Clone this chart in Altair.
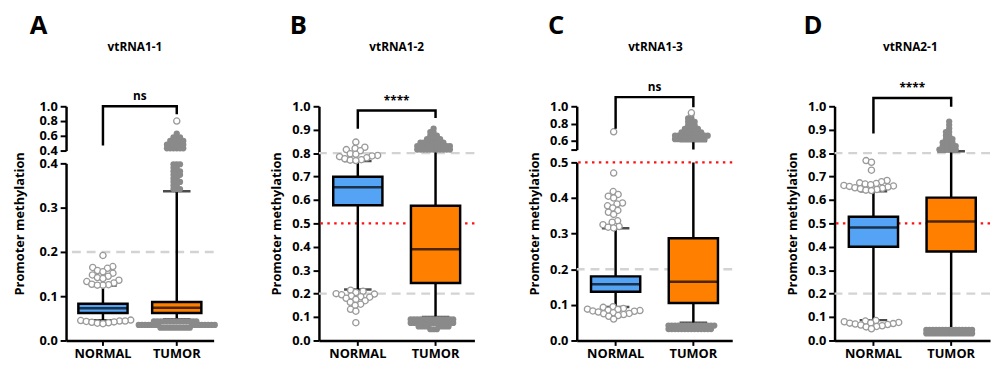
import math
import altair as alt
import pandas as pd

# ---------------- data ----------------
GROUPS = ["NORMAL", "TUMOR"]
LETTERS = ["A", "B", "C", "D"]
GENES = ["vtRNA1-1", "vtRNA1-2", "vtRNA1-3", "vtRNA2-1"]
SIGNIF = ["ns", "****", "ns", "****"]

# box statistics, one value per group (NORMAL, TUMOR)
A_LO = [0.046, 0.048]
A_Q1 = [0.062, 0.062]
A_MED = [0.073, 0.074]
A_Q3 = [0.083, 0.087]
A_HI = [0.124, 0.337]

B_LO = [0.218, 0.100]
B_Q1 = [0.577, 0.245]
B_MED = [0.654, 0.390]
B_Q3 = [0.699, 0.575]
B_HI = [0.766, 0.810]

C_LO = [0.094, 0.050]
C_Q1 = [0.137, 0.105]
C_MED = [0.158, 0.165]
C_Q3 = [0.180, 0.287]
C_HI = [0.315, 0.600]

D_LO = [0.087, 0.050]
D_Q1 = [0.400, 0.380]
D_MED = [0.482, 0.508]
D_Q3 = [0.528, 0.610]
D_HI = [0.637, 0.808]

# NORMAL outliers (individual samples)
A_NORMAL_OUT = [0.192, 0.167, 0.165, 0.163, 0.158, 0.155, 0.152, 0.148, 0.145, 0.142,
                0.140, 0.136, 0.133, 0.130, 0.127, 0.126, 0.125, 0.125,
                0.046, 0.045, 0.044, 0.043, 0.042, 0.041, 0.040, 0.039, 0.038, 0.044]
B_NORMAL_OUT = [0.847, 0.825, 0.820, 0.815, 0.810, 0.797, 0.795, 0.790, 0.788, 0.785,
                0.780, 0.776, 0.772, 0.770, 0.768,
                0.215, 0.210, 0.205, 0.200, 0.198, 0.195, 0.190, 0.187, 0.185, 0.180,
                0.175, 0.170, 0.163, 0.155, 0.150, 0.133, 0.125, 0.076]
C_NORMAL_OUT = [0.705, 0.470, 0.418, 0.410, 0.405, 0.400, 0.386, 0.383, 0.378, 0.372,
                0.365, 0.360, 0.354, 0.336, 0.332, 0.325, 0.320, 0.318, 0.316,
                0.095, 0.093, 0.090, 0.088, 0.087, 0.085, 0.084, 0.083, 0.082, 0.080,
                0.078, 0.076, 0.075, 0.073, 0.070, 0.068, 0.060]
D_NORMAL_OUT = [0.768, 0.761, 0.727, 0.683, 0.678, 0.673, 0.670, 0.668, 0.665, 0.662,
                0.660, 0.658, 0.655, 0.652, 0.650, 0.648, 0.645, 0.642, 0.640,
                0.085, 0.083, 0.080, 0.077, 0.075, 0.074, 0.072, 0.070,
                0.068, 0.066, 0.063, 0.060, 0.058, 0.050]

# TUMOR outliers: dense clouds as (level, number of samples) and isolated samples
A_TUMOR_LEVELS = [0.029, 0.035, 0.043, 0.342, 0.350, 0.358, 0.366, 0.374, 0.382, 0.390,
                  0.398, 0.43, 0.48, 0.53, 0.58, 0.63]
A_TUMOR_COUNTS = [10, 15, 14, 3, 2, 3, 2, 3, 3, 2, 3, 6, 6, 5, 3, 1]
A_TUMOR_SINGLE = [0.80]
B_TUMOR_LEVELS = [0.048, 0.060, 0.075, 0.090, 0.815, 0.830, 0.845, 0.860, 0.875, 0.890, 0.905]
B_TUMOR_COUNTS = [3, 8, 14, 14, 11, 11, 8, 5, 3, 2, 1]
B_TUMOR_SINGLE = []
C_TUMOR_LEVELS = [0.032, 0.042, 0.62, 0.66, 0.70, 0.74, 0.78, 0.82, 0.86, 0.90]
C_TUMOR_COUNTS = [14, 15, 10, 11, 7, 5, 3, 3, 2, 1]
C_TUMOR_SINGLE = [0.925]
D_TUMOR_LEVELS = [0.030, 0.045, 0.815, 0.830, 0.845, 0.860, 0.875, 0.890, 0.905, 0.920, 0.935]
D_TUMOR_COUNTS = [15, 15, 6, 5, 4, 3, 2, 2, 1, 1, 1]
D_TUMOR_SINGLE = []

# significance brackets (y of bar, y of NORMAL leg end, y of TUMOR leg end)
BRACKET_TOP = [1.0, 0.982, 1.106, 1.035]
BRACKET_LEG_NORMAL = [0.467, 0.904, 0.74, 0.884]
BRACKET_LEG_TUMOR = [0.893, 0.95, 0.99, 0.998]

GRAY_LINES = [[0.2], [0.2, 0.8], [0.2], [0.2, 0.8]]
RED_LINES = [[], [0.5], [0.5], [0.5]]

AXIS_BREAK = [0.4, None, 0.5, None]
TOP_TICKS = [[0.4, 0.6, 0.8, 1.0], None, [0.5, 0.6, 0.8, 1.0], None]
TOP_HIDDEN = [[], None, [0.5], None]
BOTTOM_TICKS = [[0.0, 0.1, 0.2, 0.3, 0.4], [0.0, 0.1, 0.2, 0.3, 0.4, 0.5, 0.6, 0.7, 0.8, 0.9, 1.0],
                [0.0, 0.1, 0.2, 0.3, 0.4, 0.5], [0.0, 0.1, 0.2, 0.3, 0.4, 0.5, 0.6, 0.7, 0.8, 0.9, 1.0]]

LO = [A_LO, B_LO, C_LO, D_LO]
Q1 = [A_Q1, B_Q1, C_Q1, D_Q1]
MED = [A_MED, B_MED, C_MED, D_MED]
Q3 = [A_Q3, B_Q3, C_Q3, D_Q3]
HI = [A_HI, B_HI, C_HI, D_HI]
NORMAL_OUT = [A_NORMAL_OUT, B_NORMAL_OUT, C_NORMAL_OUT, D_NORMAL_OUT]
TUMOR_LEVELS = [A_TUMOR_LEVELS, B_TUMOR_LEVELS, C_TUMOR_LEVELS, D_TUMOR_LEVELS]
TUMOR_COUNTS = [A_TUMOR_COUNTS, B_TUMOR_COUNTS, C_TUMOR_COUNTS, D_TUMOR_COUNTS]
TUMOR_SINGLE = [A_TUMOR_SINGLE, B_TUMOR_SINGLE, C_TUMOR_SINGLE, D_TUMOR_SINGLE]

# ---------------- style ----------------
FONT = "Open Sans"
BLUE = "#55a3f5"
ORANGE = "#ff8000"
DOT_GRAY = "#8a8a8a"
RING_GRAY = "#9a9a9a"
DASH_GRAY = "#d3d3d3"
RED = "#ff1010"
PANEL_W = [150, 158, 158, 158]
TOTAL_H = 238
TOP_H = [45, None, 44, None]
GAP = 13
TITLE_PAD = [13, 8, 8, 8]
LETTER_X = [-28, -21, -21, -22]
GENE_X = [70, 79, 80, 77]
LETTER_Y = -81
GENE_Y = -60
BOX_W = 50
CAP_W = 28
LW = 2.5
H_SPACING = 53


def swarm(values, d0, ppu, dist):
    """Deterministic beeswarm: horizontal pixel offsets that keep markers apart."""
    pts = [(v - d0) * ppu for v in values]
    order = sorted(range(len(pts)), key=lambda k: pts[k])
    placed = []
    offs = [0.0] * len(pts)
    for k in order:
        y = pts[k]
        near = [(px, py) for (px, py) in placed if abs(py - y) < dist]
        cands = [0.0]
        for px, py in near:
            dx = math.sqrt(max(dist * dist - (py - y) ** 2, 0.0))
            cands += [px + dx, px - dx]
        cands.sort(key=lambda c: (round(abs(c), 6), c))
        for c in cands:
            if all((c - px) ** 2 + (y - py) ** 2 >= dist * dist - 1e-6 for px, py in near):
                offs[k] = c
                placed.append((c, y))
                break
    return offs


def y_axis(ticks, hidden, title_pad, title_y=None):
    expr = "format(datum.value, '.1f')"
    if hidden:
        cond = " || ".join("abs(datum.value - %s) < 1e-9" % h for h in hidden)
        expr = "(%s) ? '' : %s" % (cond, expr)
    kw = dict(values=ticks, labelExpr=expr, labelFont=FONT, labelFontSize=13,
              labelFontWeight="bold", labelColor="black", labelPadding=3,
              labelOverlap=False, tickColor="black", tickWidth=2, tickSize=6,
              domainColor="black", domainWidth=LW, grid=False, titleFont=FONT,
              titleFontSize=13, titleFontWeight="bold", titleColor="black",
              titlePadding=title_pad)
    if title_y is not None:
        kw["titleY"] = title_y
    return alt.Axis(**kw)


X_AXIS = alt.Axis(labelFont=FONT, labelFontSize=13, labelFontWeight="bold",
                  labelColor="black", labelAngle=0, labelPadding=2, tickColor="black",
                  tickWidth=2, tickSize=5, domainColor="black", domainWidth=LW, grid=False)


def segment(i, d0, d1, height, ticks, hidden, part, title_y=None):
    W = PANEL_W[i]
    ppu = height / (d1 - d0)
    xscale = alt.Scale(domain=GROUPS, paddingInner=0, paddingOuter=0)
    yscale = alt.Scale(domain=[d0, d1], nice=False, zero=False)
    yax = y_axis(ticks, hidden, TITLE_PAD[i], title_y)
    ytitle = None if part == "top" else "Promoter methylation"
    xax = None if part == "top" else X_AXIS
    offscale = alt.Scale(domain=[-W / 4, W / 4], range=[0, W / 2])

    def X():
        return alt.X("group:N", scale=xscale, axis=xax, title=None)

    def Y(f):
        return alt.Y(f + ":Q", scale=yscale, axis=yax, title=ytitle)

    def in_line(v):
        return (d0 < v <= d1) if part == "top" else (d0 <= v <= d1)

    def in_pts(v):
        if part == "top":
            return v > d0
        if part == "bottom":
            return v <= d1
        return True

    layers = []
    grays = [v for v in GRAY_LINES[i] if in_line(v)]
    reds = [v for v in RED_LINES[i] if in_line(v)]
    if grays:
        layers.append(alt.Chart(pd.DataFrame({"y": grays})).mark_rule(
            color=DASH_GRAY, strokeWidth=LW, strokeDash=[9, 6]).encode(y=Y("y")))
    if reds:
        layers.append(alt.Chart(pd.DataFrame({"y": reds})).mark_rule(
            color=RED, strokeWidth=LW, strokeDash=[2.5, 4.5]).encode(y=Y("y")))

    stats = pd.DataFrame({"group": GROUPS, "lo": LO[i], "q1": Q1[i], "med": MED[i],
                          "q3": Q3[i], "hi": HI[i]})
    base = alt.Chart(stats)
    layers.append(base.mark_rule(color="black", strokeWidth=LW, clip=True).encode(
        x=X(), y=Y("q3"), y2="hi"))
    layers.append(base.mark_rule(color="black", strokeWidth=LW, clip=True).encode(
        x=X(), y=Y("lo"), y2="q1"))
    layers.append(base.mark_bar(size=BOX_W, stroke="black", strokeWidth=LW, clip=True).encode(
        x=X(), y=Y("q1"), y2="q3",
        fill=alt.Fill("group:N", scale=alt.Scale(domain=GROUPS, range=[BLUE, ORANGE]), legend=None)))
    layers.append(base.mark_tick(size=BOX_W, thickness=LW, color="black", clip=True).encode(
        x=X(), y=Y("med")))
    layers.append(base.mark_tick(size=CAP_W, thickness=LW, color="black", clip=True).encode(
        x=X(), y=Y("hi")))
    layers.append(base.mark_tick(size=CAP_W, thickness=LW, color="black", clip=True).encode(
        x=X(), y=Y("lo")))

    # dense tumour clouds
    fvals = []
    for lev, cnt in zip(TUMOR_LEVELS[i], TUMOR_COUNTS[i]):
        if in_pts(lev):
            fvals += [lev] * cnt
    if fvals:
        offs = swarm(fvals, d0, ppu, 3.5)
        fdf = pd.DataFrame({"group": "TUMOR", "value": fvals, "off": offs})
        layers.append(alt.Chart(fdf).mark_point(filled=True, size=40, color=DOT_GRAY,
                                                opacity=1).encode(
            x=X(), xOffset=alt.XOffset("off:Q", scale=offscale), y=Y("value")))

    # individual (hollow) samples
    hrows = []
    for g, vals in (("NORMAL", NORMAL_OUT[i]), ("TUMOR", TUMOR_SINGLE[i])):
        vv = [v for v in vals if in_pts(v)]
        if vv:
            for v, o in zip(vv, swarm(vv, d0, ppu, 6.0)):
                hrows.append({"group": g, "value": v, "off": o})
    if hrows:
        layers.append(alt.Chart(pd.DataFrame(hrows)).mark_point(
            filled=True, fill="white", stroke=RING_GRAY, strokeWidth=1.3, size=40,
            opacity=1).encode(
            x=X(), xOffset=alt.XOffset("off:Q", scale=offscale), y=Y("value")))

    if part != "bottom":
        bdf = pd.DataFrame({"group": ["NORMAL", "NORMAL", "TUMOR", "TUMOR"],
                            "y": [BRACKET_LEG_NORMAL[i], BRACKET_TOP[i], BRACKET_TOP[i],
                                  BRACKET_LEG_TUMOR[i]],
                            "order": [0, 1, 2, 3]})
        layers.append(alt.Chart(bdf).mark_line(color="black", strokeWidth=LW,
                                               strokeJoin="miter").encode(
            x=X(), y=Y("y"), order="order:Q"))
        sdf = pd.DataFrame({"y": [BRACKET_TOP[i]], "t": [SIGNIF[i]]})
        layers.append(alt.Chart(sdf).mark_text(font=FONT, fontSize=12, fontWeight="bold",
                                               baseline="bottom", dy=-3, color="black").encode(
            x=alt.value(W / 2), y=Y("y"), text="t:N"))
        ldf = pd.DataFrame({"t": [LETTERS[i]]})
        layers.append(alt.Chart(ldf).mark_text(font=FONT, fontSize=26, fontWeight="bold",
                                               baseline="middle", align="center",
                                               color="black").encode(
            x=alt.value(LETTER_X[i]), y=alt.value(LETTER_Y), text="t:N"))
        gdf = pd.DataFrame({"t": [GENES[i]]})
        layers.append(alt.Chart(gdf).mark_text(font=FONT, fontSize=12, fontWeight="bold",
                                               baseline="middle", align="center",
                                               color="black").encode(
            x=alt.value(GENE_X[i]), y=alt.value(GENE_Y), text="t:N"))

    return alt.layer(*layers).properties(width=W, height=height)


def panel(i):
    brk = AXIS_BREAK[i]
    if brk is None:
        return segment(i, 0.0, 1.0, TOTAL_H, BOTTOM_TICKS[i], [], "single")
    th = TOP_H[i]
    bh = TOTAL_H - th - GAP
    top = segment(i, brk, 1.0, th, TOP_TICKS[i], TOP_HIDDEN[i], "top")
    bottom = segment(i, 0.0, brk, bh, BOTTOM_TICKS[i], [], "bottom",
                     title_y=TOTAL_H / 2 - th - GAP)
    return alt.vconcat(top, bottom, spacing=GAP, bounds="flush")


chart = alt.hconcat(*[panel(i) for i in range(4)], spacing=H_SPACING).configure_view(
    stroke=None).properties(padding={"left": 5, "top": 3, "right": 0, "bottom": 0})

chart.save("out.html", embed_options={"renderer": "svg", "actions": False})
